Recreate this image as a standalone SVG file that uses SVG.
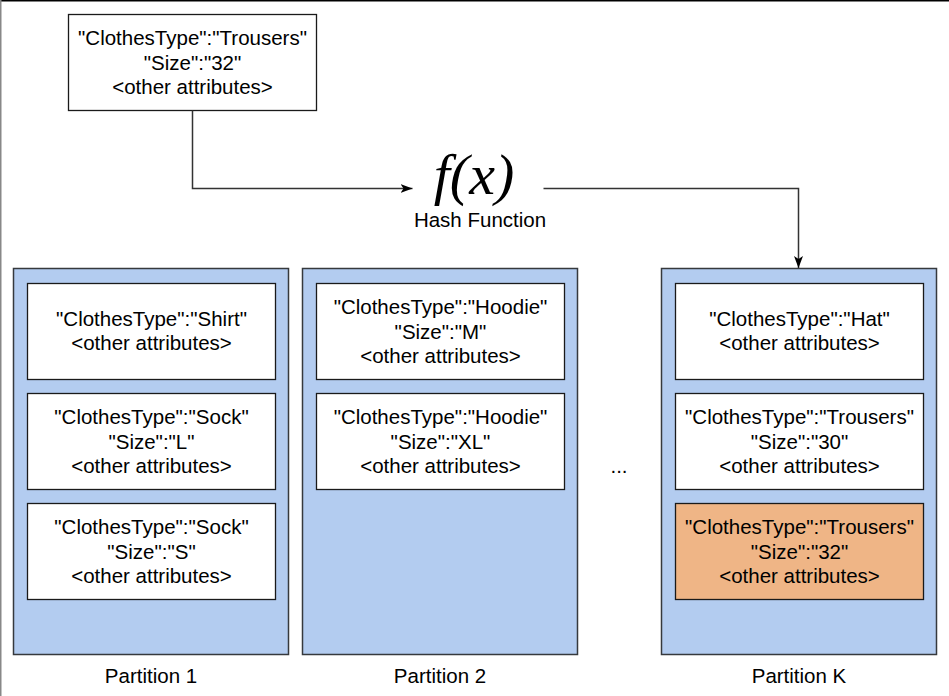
<svg xmlns="http://www.w3.org/2000/svg" width="949" height="696" viewBox="0 0 949 696">
<style>
text{font-family:"Liberation Sans",Arial,sans-serif;font-size:20.5px;fill:#000;text-anchor:middle}
.part{fill:#b3ccf0;stroke:#36393d;stroke-width:1.5}
.item{fill:#fff;stroke:#1a1a1a;stroke-width:1.3}
.hit{fill:#efb586;stroke:#1a1a1a;stroke-width:1.3}
.conn{fill:none;stroke:#333;stroke-width:1.5}
.fx{font-family:"Liberation Serif","Times New Roman",serif;font-style:italic;font-size:58px}
</style>
<defs>
<marker id="arr" viewBox="0 0 12 9" refX="12" refY="4.5" markerWidth="12" markerHeight="9" markerUnits="userSpaceOnUse" orient="auto">
<path d="M0,0 L12,4.5 L0,9 L3,4.5 Z" fill="#000"/>
</marker>
</defs>
<rect width="949" height="696" fill="#fff"/>
<line x1="0" y1="0.75" x2="949" y2="0.75" stroke="#000" stroke-width="1.5"/>
<line x1="0.75" y1="0" x2="0.75" y2="696" stroke="#888" stroke-width="1.5"/>

<g id="source">
<rect class="item" x="68.5" y="14.5" width="248" height="96"/>
<text x="192.5" y="45">"ClothesType":"Trousers"</text>
<text x="192.5" y="69.5">"Size":"32"</text>
<text x="192.5" y="94">&lt;other attributes&gt;</text>
</g>

<g id="hash">
<text class="fx" x="474" y="194">f(x)</text>
<text x="480" y="227">Hash Function</text>
</g>

<g id="partition1">
<rect class="part" x="13.5" y="268.5" width="275" height="386"/>
<rect class="item" x="27.5" y="283.5" width="248" height="96"/>
<text x="151.5" y="326">"ClothesType":"Shirt"</text>
<text x="151.5" y="350">&lt;other attributes&gt;</text>
<rect class="item" x="27.5" y="393.5" width="248" height="96"/>
<text x="151.5" y="424">"ClothesType":"Sock"</text>
<text x="151.5" y="448.5">"Size":"L"</text>
<text x="151.5" y="473">&lt;other attributes&gt;</text>
<rect class="item" x="27.5" y="503.5" width="248" height="96"/>
<text x="151.5" y="534">"ClothesType":"Sock"</text>
<text x="151.5" y="558.5">"Size":"S"</text>
<text x="151.5" y="583">&lt;other attributes&gt;</text>
<text x="151" y="683">Partition 1</text>
</g>

<g id="partition2">
<rect class="part" x="302.5" y="268.5" width="275" height="386"/>
<rect class="item" x="316.5" y="283.5" width="248" height="96"/>
<text x="440.5" y="314">"ClothesType":"Hoodie"</text>
<text x="440.5" y="338.5">"Size":"M"</text>
<text x="440.5" y="363">&lt;other attributes&gt;</text>
<rect class="item" x="316.5" y="393.5" width="248" height="96"/>
<text x="440.5" y="424">"ClothesType":"Hoodie"</text>
<text x="440.5" y="448.5">"Size":"XL"</text>
<text x="440.5" y="473">&lt;other attributes&gt;</text>
<text x="440" y="683">Partition 2</text>
</g>

<g id="ellipsis">
<text x="619" y="473">...</text>
</g>

<g id="partitionK">
<rect class="part" x="661.5" y="268.5" width="275" height="386"/>
<rect class="item" x="675.5" y="283.5" width="248" height="96"/>
<text x="799.5" y="326">"ClothesType":"Hat"</text>
<text x="799.5" y="350">&lt;other attributes&gt;</text>
<rect class="item" x="675.5" y="393.5" width="248" height="96"/>
<text x="799.5" y="424">"ClothesType":"Trousers"</text>
<text x="799.5" y="448.5">"Size":"30"</text>
<text x="799.5" y="473">&lt;other attributes&gt;</text>
<rect class="hit" x="675.5" y="503.5" width="248" height="96"/>
<text x="799.5" y="534">"ClothesType":"Trousers"</text>
<text x="799.5" y="558.5">"Size":"32"</text>
<text x="799.5" y="583">&lt;other attributes&gt;</text>
<text x="799" y="683">Partition K</text>
</g>

<g id="connectors">
<path class="conn" d="M192.5,110.5 V188.5 H412.5" marker-end="url(#arr)"/>
<path class="conn" d="M543.5,188.5 H798.5 V268" marker-end="url(#arr)"/>
</g>
</svg>
